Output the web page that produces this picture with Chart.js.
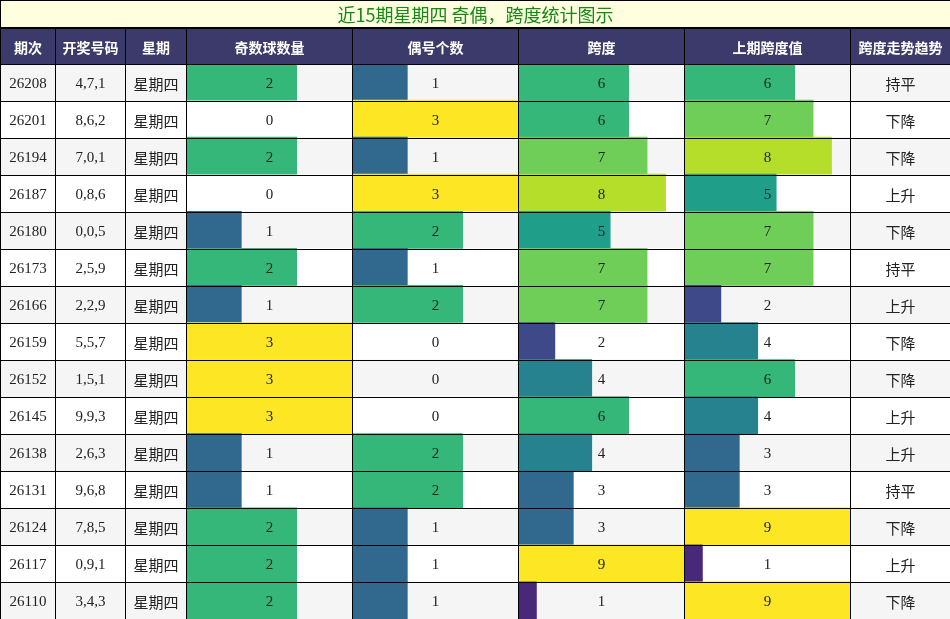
<!DOCTYPE html>
<html>
<head>
<meta charset="utf-8">
<script src="https://cdn.jsdelivr.net/npm/chart.js@4/dist/chart.umd.min.js"></script>
<style>
body { margin: 0; background: #fff; }
#wrap { position: relative; width: 950px; height: 619px; }
table { position: absolute; left: 0; top: 0; z-index: 2; border-collapse: collapse; table-layout: fixed; width: 950px; }
td, th { border: 1px solid #000; padding: 0; text-align: center; font-family: "Liberation Serif", serif; font-size: 15px; color: #222; }
th { background: #3b3a6b; color: #fff; font-family: "Noto Sans CJK SC", sans-serif; font-size: 14px; height: 35px; }
.title td { background: #ffffe0; color: #138a13; font-family: "Noto Sans CJK SC", sans-serif; font-size: 18px; height: 26px; border-bottom: 2px solid #000; }
tr.body td { height: 36px; }
td.odd { background: #f5f5f5; }
td.even { background: #fff; }
td.bar { background: transparent; }
td.cn { font-family: "Noto Sans CJK SC", sans-serif; }
.cv { position: absolute; top: 63px; height: 556px; width: 166px; z-index: 1; }
</style>
</head>
<body>
<div id="wrap">
<table id="tbl"></table>
</div>
<script>
const periods = ["26208","26201","26194","26187","26180","26173","26166","26159","26152","26145","26138","26131","26124","26117","26110"];
const draws = ["4,7,1","8,6,2","7,0,1","0,8,6","0,0,5","2,5,9","2,2,9","5,5,7","1,5,1","9,9,3","2,6,3","9,6,8","7,8,5","0,9,1","3,4,3"];
const oddCount = [2,0,2,0,1,2,1,3,3,3,1,1,2,2,2];
const evenCount = [1,3,1,3,2,1,2,0,0,0,2,2,1,1,1];
const span = [6,6,7,8,5,7,7,2,4,6,4,3,3,9,1];
const prevSpan = [6,7,8,5,7,7,2,4,6,4,3,3,9,1,9];
const trend = ["持平","下降","下降","上升","下降","持平","上升","下降","下降","上升","上升","持平","下降","上升","下降"];
const headers = ["期次","开奖号码","星期","奇数球数量","偶号个数","跨度","上期跨度值","跨度走势趋势"];
const colWidths = [55,70,61,166,166,166,166,100];

const viridis = ["#440154","#482878","#3e4989","#31688e","#26828e","#1f9e89","#35b779","#6ece58","#b5de2b","#fde725"];
function colorFor(v, max) {
    return viridis[Math.round(v / max * 9)];
}

// table
const tbl = document.getElementById("tbl");
let html = "<colgroup>" + colWidths.map(w => `<col style="width:${w}px">`).join("") + "</colgroup>";
html += `<tr class="title"><td colspan="8">近15期星期四 奇偶，跨度统计图示</td></tr>`;
html += "<tr>" + headers.map(h => `<th>${h}</th>`).join("") + "</tr>";
periods.forEach((p, i) => {
    const bg = i % 2 === 0 ? "odd" : "even";
    html += `<tr class="body">
<td class="${bg}">${p}</td><td class="${bg}">${draws[i]}</td><td class="${bg} cn">星期四</td>
<td class="bar">${oddCount[i]}</td><td class="bar">${evenCount[i]}</td>
<td class="bar">${span[i]}</td><td class="bar">${prevSpan[i]}</td>
<td class="${bg} cn">${trend[i]}</td></tr>`;
});
tbl.innerHTML = html;

// stripes behind the bars
const stripes = {
    id: "stripes",
    beforeDraw(chart) {
        const { ctx, scales: { y }, chartArea } = chart;
        const h = chartArea.height / periods.length;
        periods.forEach((p, i) => {
            const c = y.getPixelForValue(i);
            ctx.fillStyle = i % 2 === 0 ? "#f5f5f5" : "#ffffff";
            ctx.fillRect(chartArea.left, c - h / 2, chartArea.width, h);
        });
    }
};

function makeChart(left, values, max) {
    const cv = document.createElement("canvas");
    const box = document.createElement("div");
    box.className = "cv";
    box.style.left = left + "px";
    box.appendChild(cv);
    document.getElementById("wrap").appendChild(box);
    new Chart(cv, {
        type: "bar",
        data: {
            labels: periods,
            datasets: [{
                data: values,
                backgroundColor: values.map(v => colorFor(v, max)),
                barPercentage: 1,
                categoryPercentage: 1,
                borderWidth: 0,
            }],
        },
        options: {
            indexAxis: "y",
            responsive: true,
            maintainAspectRatio: false,
            animation: false,
            layout: { padding: 0 },
            plugins: { legend: { display: false }, tooltip: { enabled: false } },
            scales: {
                x: { display: false, min: 0, max: max },
                y: { display: false },
            },
        },
        plugins: [stripes],
    });
}

makeChart(186, oddCount, 3);
makeChart(352, evenCount, 3);
makeChart(518, span, 9);
makeChart(684, prevSpan, 9);
</script>
</body>
</html>
